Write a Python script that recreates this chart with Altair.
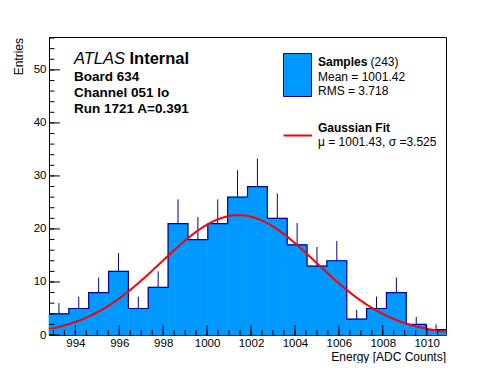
import altair as alt
import pandas as pd
import numpy as np

# ---------------- data ----------------
counts = [4, 5, 8, 12, 5, 9, 21, 18, 21, 26, 28, 22, 17, 13, 14, 3, 5, 8, 2, 1]
x_lo = 992.8
x_hi = 1010.88
n_bins = 20
x_major = [994, 996, 998, 1000, 1002, 1004, 1006, 1008, 1010]
y_major = [0, 10, 20, 30, 40, 50]
y_max = 56.2
fit_mu = 1001.43
fit_sigma = 3.525
fit_amp = 22.6

# ---------------- layout ----------------
W, H = 397, 298
FONT = "Liberation Sans"
FILL = "#0099ff"
LINE = "#000099"

bw = (x_hi - x_lo) / n_bins
edges = [x_lo + i * bw for i in range(n_bins + 1)]
hist = pd.DataFrame({
    "lo": edges[:-1],
    "hi": edges[1:],
    "c": [(a + b) / 2 for a, b in zip(edges[:-1], edges[1:])],
    "n": counts,
})
step = pd.DataFrame({"x": edges, "n": counts + [counts[-1]]})

xs = alt.Scale(domain=[x_lo, x_hi], nice=False, zero=False)
ys = alt.Scale(domain=[0, y_max], nice=False, zero=True)
xaxis = alt.Axis(values=x_major, format="d", ticks=False, tickSize=0, domain=False,
                 grid=False, labelPadding=2.5, labelFont=FONT, labelFontSize=11.5,
                 labelColor="black", title=None)
yaxis = alt.Axis(values=y_major, format="d", ticks=False, tickSize=0, domain=False,
                 grid=False, labelPadding=3, labelFont=FONT, labelFontSize=11.5,
                 labelColor="black", title=None)


def X(f):
    return alt.X(f, scale=xs, axis=xaxis)


def Y(f):
    return alt.Y(f, scale=ys, axis=yaxis)


bars = alt.Chart(hist).mark_rect(fill=FILL, stroke=FILL, strokeWidth=0.6).encode(
    x=X("lo:Q"), x2="hi:Q", y=Y("n:Q"), y2=alt.datum(0)
)

errs = alt.Chart(hist).transform_calculate(
    top="datum.n + sqrt(datum.n)"
).mark_rule(color=LINE, strokeWidth=1).encode(
    x=X("c:Q"), y=Y("n:Q"), y2="top:Q"
)

outline = alt.Chart(step).mark_line(interpolate="step-after", color=LINE, strokeWidth=1.2).encode(
    x=X("x:Q"), y=Y("n:Q")
)

fit = alt.Chart(alt.sequence(x_lo, x_hi + 0.01, 0.05, as_="x")).transform_calculate(
    y=f"{fit_amp} * exp(-0.5 * pow((datum.x - {fit_mu}) / {fit_sigma}, 2))"
).mark_line(color="#ff0000", strokeWidth=2).encode(
    x=X("x:Q"), y=Y("y:Q")
)

# inward ticks
x_minor = list(np.arange(993.0, 1010.51, 0.5))
y_minor = list(np.arange(0, 56.1, 2))
xt_major = alt.Chart(pd.DataFrame({"v": x_major})).mark_rule(color="black").encode(
    x=X("v:Q"), y=alt.value(H), y2=alt.value(H - 10))
xt_minor = alt.Chart(pd.DataFrame({"v": x_minor})).mark_rule(color="black").encode(
    x=X("v:Q"), y=alt.value(H), y2=alt.value(H - 5))
yt_major = alt.Chart(pd.DataFrame({"v": y_major})).mark_rule(color="black").encode(
    y=Y("v:Q"), x=alt.value(0), x2=alt.value(11))
yt_minor = alt.Chart(pd.DataFrame({"v": y_minor})).mark_rule(color="black").encode(
    y=Y("v:Q"), x=alt.value(0), x2=alt.value(5.5))

# page coords -> plot coords
OX, OY = 49, 37


def txt(s, px, py, size=12, weight="normal", style="normal", align="left", angle=0):
    return alt.Chart(pd.DataFrame({"t": [s]})).mark_text(
        font=FONT, fontSize=size, fontWeight=weight, fontStyle=style, align=align,
        baseline="alphabetic", color="black", angle=angle
    ).encode(text="t:N", x=alt.value(px - OX), y=alt.value(py - OY))


texts = [
    txt("ATLAS", 74, 63.5, 16.5, style="italic"),
    txt("Internal", 129.5, 63.5, 16.5, weight="bold"),
    txt("Board 634", 74, 80.5, 13.5, weight="bold"),
    txt("Channel 051 lo", 74, 96.5, 13.5, weight="bold"),
    txt("Run 1721 A=0.391", 74, 112.5, 13.5, weight="bold"),
    txt("Samples", 318, 66, 12, weight="bold"),
    txt("(243)", 370.5, 66, 12),
    txt("Mean = 1001.42", 318, 80.5, 12),
    txt("RMS = 3.718", 318, 94.5, 12),
    txt("Gaussian Fit", 318, 132, 12, weight="bold"),
    txt("\u03bc = 1001.43, \u03c3 =3.525", 318, 146, 12),
    txt("Energy [ADC Counts]", 446, 361, 12, align="right"),
    txt("Entries", 23, 38, 12, align="right", angle=270),
]

leg_box = alt.Chart(pd.DataFrame({"a": [0]})).mark_rect(
    fill=FILL, stroke=LINE, strokeWidth=1
).encode(x=alt.value(283.5 - OX), x2=alt.value(311.5 - OX),
         y=alt.value(53.5 - OY), y2=alt.value(96.5 - OY))
leg_line = alt.Chart(pd.DataFrame({"a": [0]})).mark_rule(
    color="#ff0000", strokeWidth=2
).encode(x=alt.value(283.5 - OX), x2=alt.value(312 - OX),
         y=alt.value(135.5 - OY))

chart = alt.layer(
    bars, errs, outline, fit, xt_minor, xt_major, yt_minor, yt_major,
    leg_box, leg_line, *texts
).properties(
    width=W, height=H,
    autosize="none",
    padding={"left": 41, "top": 29, "right": 40, "bottom": 28},
    background="white",
).configure_view(stroke="black", strokeWidth=1)

chart.save("out.html", embed_options={"renderer": "svg", "actions": False})
